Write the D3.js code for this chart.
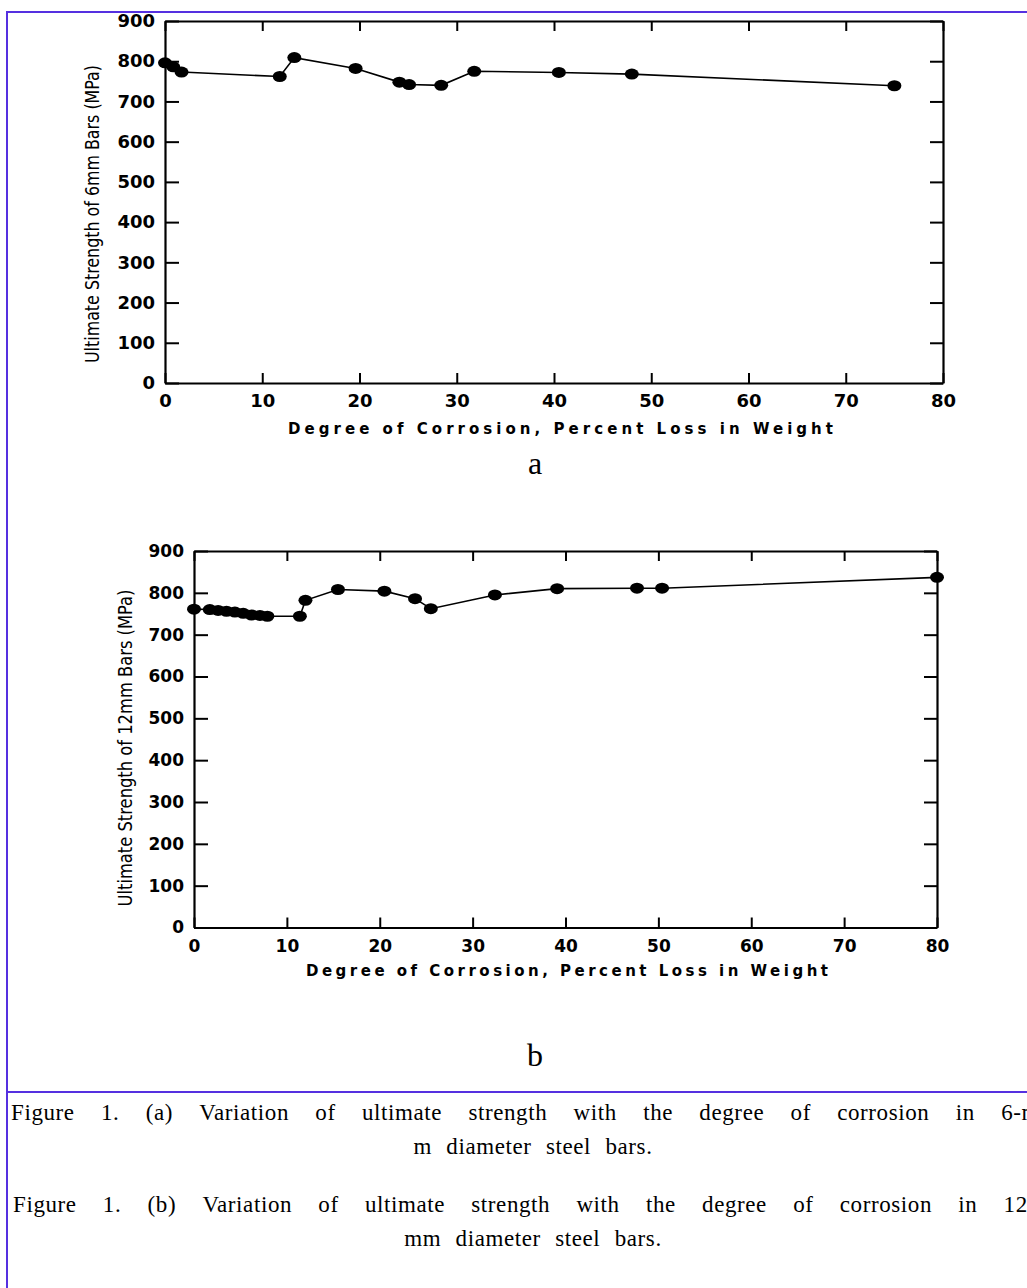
<!DOCTYPE html>
<html>
<head>
<meta charset="utf-8">
<script src="https://cdn.jsdelivr.net/npm/d3@7"></script>
<style>
  body { margin: 0; background: #ffffff; }
  svg { display: block; }
</style>
</head>
<body>
<div id="fig"></div>
<script>
// data
var xTicks = [0, 10, 20, 30, 40, 50, 60, 70, 80];
var yTicks = [0, 100, 200, 300, 400, 500, 600, 700, 800, 900];

// (a) 6 mm bars
var corrosion6 = [0, 0.85, 1.7, 11.8, 13.3, 19.6, 24.1, 25.1, 28.4, 31.8, 40.5, 48, 75];
var strength6  = [796, 786, 773, 762, 809, 782, 748, 742, 740, 775, 772, 768, 739];

// (b) 12 mm bars
var corrosion12 = [0, 1.7, 2.6, 3.5, 4.4, 5.3, 6.2, 7.1, 7.9, 11.4, 12, 15.5, 20.5, 23.8, 25.5, 32.4, 39.1, 47.7, 50.4, 80];
var strength12  = [761, 760, 758, 756, 754, 751, 747, 746, 744, 744, 782, 808, 804, 786, 762, 795, 810, 811, 811, 837];

var xTitle = "Degree of Corrosion, Percent Loss in Weight";
var yTitle6 = "Ultimate Strength of 6mm Bars (MPa)";
var yTitle12 = "Ultimate Strength of 12mm Bars (MPa)";

var captionA = ["Figure 1. (a) Variation of ultimate strength with the degree of corrosion in 6-m", "m diameter steel bars."];
var captionB = ["Figure 1. (b) Variation of ultimate strength with the degree of corrosion in 12-", "mm diameter steel bars."];

var width = 1027;
var height = 1288;
var frameColor = "#5530e0";

var svg = d3.select("#fig")
    .append("svg")
    .attr("width", width)
    .attr("height", height);

svg.append("rect")
    .attr("width", width)
    .attr("height", height)
    .attr("fill", "#ffffff");

// table frame
svg.append("rect")
    .attr("x", 7)
    .attr("y", 12)
    .attr("width", 1080)
    .attr("height", 1320)
    .attr("fill", "none")
    .attr("stroke", frameColor)
    .attr("stroke-width", 2);
svg.append("line")
    .attr("x1", 7).attr("x2", width)
    .attr("y1", 1092).attr("y2", 1092)
    .attr("stroke", frameColor)
    .attr("stroke-width", 2);

function drawChart(cfg) {
    var x = d3.scaleLinear().domain([0, 80]).range([cfg.left, cfg.right]);
    var y = d3.scaleLinear().domain([0, 900]).range([cfg.bottom, cfg.top]);
    var g = svg.append("g");

    var bottomAxis = g.append("g")
        .attr("transform", "translate(0," + cfg.bottom + ")")
        .call(d3.axisBottom(x).tickValues(xTicks).tickSize(-10).tickSizeOuter(0).tickPadding(cfg.xPad));
    var topAxis = g.append("g")
        .attr("transform", "translate(0," + cfg.top + ")")
        .call(d3.axisTop(x).tickValues(xTicks).tickSize(-10).tickSizeOuter(0).tickFormat(""));
    var leftAxis = g.append("g")
        .attr("transform", "translate(" + cfg.left + ",0)")
        .call(d3.axisLeft(y).tickValues(yTicks).tickSize(-14).tickSizeOuter(0).tickPadding(10));
    var rightAxis = g.append("g")
        .attr("transform", "translate(" + cfg.right + ",0)")
        .call(d3.axisRight(y).tickValues(yTicks).tickSize(-13).tickSizeOuter(0).tickFormat(""));

    [bottomAxis, topAxis, leftAxis, rightAxis].forEach(function (a) {
        a.select(".domain").attr("stroke", "#000").attr("stroke-width", 2.2);
        a.selectAll(".tick line").attr("stroke", "#000").attr("stroke-width", 2);
        a.selectAll("text")
            .attr("fill", "#000")
            .attr("font-family", "DejaVu Sans, sans-serif")
            .attr("font-weight", "bold")
            .attr("font-size", cfg.tickFont + "px");
    });

    // x title
    g.append("text")
        .attr("x", cfg.xTitleX)
        .attr("y", cfg.xTitleY)
        .attr("font-family", "DejaVu Sans, sans-serif")
        .attr("font-weight", "bold")
        .attr("font-size", "15px")
        .attr("textLength", cfg.xTitleLen)
        .attr("lengthAdjust", "spacing")
        .attr("fill", "#000")
        .text(xTitle);

    // y title
    g.append("text")
        .attr("transform", "translate(" + cfg.yTitleX + "," + cfg.yTitleY + ") rotate(-90)")
        .attr("text-anchor", "middle")
        .attr("font-family", "DejaVu Sans Condensed, DejaVu Sans, sans-serif")
        .attr("font-stretch", "condensed")
        .attr("font-size", "20px")
        .attr("textLength", cfg.yTitleLen)
        .attr("lengthAdjust", "spacingAndGlyphs")
        .attr("fill", "#000")
        .text(cfg.yTitle);

    var pts = cfg.xs.map(function (d, i) { return [d, cfg.ys[i]]; });

    g.append("path")
        .datum(pts)
        .attr("fill", "none")
        .attr("stroke", "#000")
        .attr("stroke-width", 1.6)
        .attr("d", d3.line()
            .x(function (d) { return x(d[0]); })
            .y(function (d) { return y(d[1]); }));

    g.selectAll("ellipse")
        .data(pts)
        .enter()
        .append("ellipse")
        .attr("cx", function (d) { return x(d[0]); })
        .attr("cy", function (d) { return y(d[1]); })
        .attr("rx", 7)
        .attr("ry", 5.5)
        .attr("fill", "#000");
}

drawChart({
    left: 165, right: 943, top: 21, bottom: 383,
    xs: corrosion6, ys: strength6, yTitle: yTitle6,
    tickFont: 18, xPad: 11,
    xTitleX: 288, xTitleY: 434, xTitleLen: 545,
    yTitleX: 99, yTitleY: 214, yTitleLen: 298
});

drawChart({
    left: 194, right: 937, top: 551, bottom: 927.5,
    xs: corrosion12, ys: strength12, yTitle: yTitle12,
    tickFont: 17, xPad: 12,
    xTitleX: 306, xTitleY: 976, xTitleLen: 522,
    yTitleX: 132, yTitleY: 748, yTitleLen: 317
});

// panel letters
svg.append("text")
    .attr("x", 535).attr("y", 474)
    .attr("text-anchor", "middle")
    .attr("font-family", "Liberation Serif, Times New Roman, serif")
    .attr("font-size", "32px")
    .text("a");
svg.append("text")
    .attr("x", 535).attr("y", 1066)
    .attr("text-anchor", "middle")
    .attr("font-family", "Liberation Serif, Times New Roman, serif")
    .attr("font-size", "32px")
    .text("b");

// captions: first line justified, second centred
function justifyLine(text, x0, x1, baseline) {
    var words = text.split(" ");
    var nodes = words.map(function (w) {
        return svg.append("text")
            .attr("y", baseline)
            .attr("font-family", "Liberation Serif, Times New Roman, serif")
            .attr("font-size", "23px")
            .attr("letter-spacing", "0.6px")
            .attr("fill", "#000")
            .text(w);
    });
    var widths = nodes.map(function (n) { return n.node().getComputedTextLength(); });
    var gap = (x1 - x0 - d3.sum(widths)) / (words.length - 1);
    var cx = x0;
    nodes.forEach(function (n, i) {
        n.attr("x", cx);
        cx += widths[i] + gap;
    });
}

function centreLine(text, cx, baseline) {
    svg.append("text")
        .attr("x", cx)
        .attr("y", baseline)
        .attr("text-anchor", "middle")
        .attr("font-family", "Liberation Serif, Times New Roman, serif")
        .attr("font-size", "23px")
        .attr("letter-spacing", "0.6px")
        .attr("word-spacing", "8px")
        .attr("fill", "#000")
        .text(text);
}

justifyLine(captionA[0], 11, 1040, 1120);
centreLine(captionA[1], 533, 1154);
justifyLine(captionB[0], 13, 1036, 1212);
centreLine(captionB[1], 533, 1246);
</script>
</body>
</html>
